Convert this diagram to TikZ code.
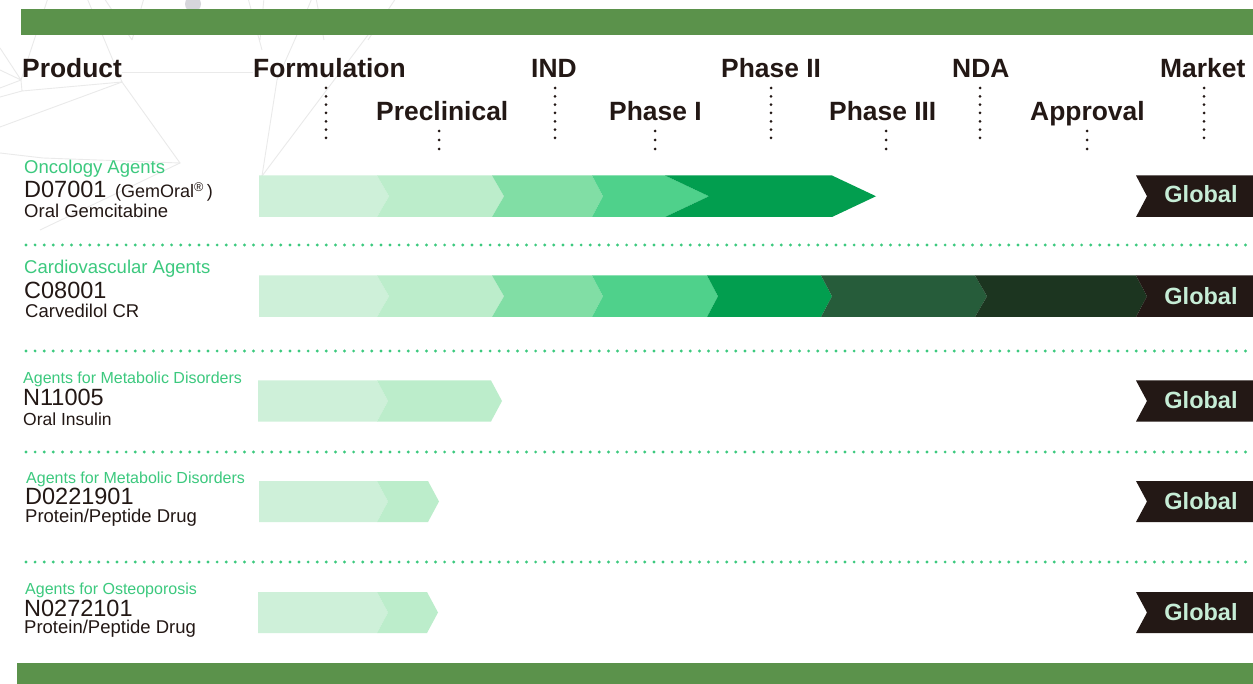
\documentclass[tikz,border=0pt]{standalone}
\usepackage{fontspec}
\setmainfont{Liberation Sans}
\usetikzlibrary{calc}
\definecolor{barGreen}{HTML}{5B924B}
\definecolor{ink}{HTML}{231815}
\definecolor{catGreen}{HTML}{3CC97E}
\definecolor{tagText}{HTML}{C6EDD6}
\definecolor{bgLine}{HTML}{EAEAEA}
\definecolor{bgDot}{HTML}{D6D6DB}
\definecolor{sA}{HTML}{CEF0D9}
\definecolor{sB}{HTML}{BCEDCB}
\definecolor{sC}{HTML}{81DEA5}
\definecolor{sD}{HTML}{4FD18B}
\definecolor{sE}{HTML}{029E4F}
\definecolor{sF}{HTML}{265C3A}
\definecolor{sG}{HTML}{1C3520}
\definecolor{tagBlack}{HTML}{231815}
\newcommand\mkseg[7]{%
  \pgfmathsetmacro\segmid{(#4+#5)/2}%
  \fill[#1] (#2,#4) -- (#3,#4) -- ({#3+#6},\segmid) -- (#3,#5) -- (#2,#5) -- ({#2+#7},\segmid) -- cycle;}
\tikzset{
  hdr/.style={font=\fontsize{26.4}{30}\selectfont\bfseries, text=ink, anchor=base west, inner sep=0pt},
  catbig/.style={font=\fontsize{18.5}{21}\selectfont, text=catGreen, anchor=base west, inner sep=0pt},
  catsmall/.style={font=\fontsize{16}{19}\selectfont, text=catGreen, anchor=base west, inner sep=0pt},
  idtext/.style={font=\fontsize{23.5}{27}\selectfont, text=ink, anchor=base west, inner sep=0pt, text depth=0pt},
  subbig/.style={font=\fontsize{18.5}{21}\selectfont, text=ink, anchor=base west, inner sep=0pt},
  subsmall/.style={font=\fontsize{18.5}{21}\selectfont, text=ink, anchor=base west, inner sep=0pt},
  tagtext/.style={font=\fontsize{23.5}{27}\selectfont\bfseries, text=tagText, anchor=base, inner sep=0pt},
  hdots/.style={draw=ink, line width=3pt, line cap=round, dash pattern=on 0pt off 8.33pt},
  rowdots/.style={draw=catGreen, line width=3.2pt, line cap=round, dash pattern=on 0pt off 9.1pt},
  bgl/.style={draw=bgLine, line width=0.9pt}
}
\begin{document}
\begin{tikzpicture}[x=1pt,y=-1pt]
\useasboundingbox (0,0) rectangle (1253,684);
\fill[white] (0,0) rectangle (1253,684);
% faint background network
\fill[bgDot] (193,4) circle (8);
\draw[bgl] (48,-2) -- (21,80) -- (22,91) -- (122,82) -- (87,-2);
\draw[bgl] (0,48) -- (21,80) (0,70) -- (21,80) (0,88) -- (21,80) (0,97) -- (22,91);
\draw[bgl] (0,127) -- (122,82) -- (180,163) -- (40,230);
\draw[bgl] (0,153) -- (43,158) -- (180,163);
\draw[bgl] (122,72) -- (253,72);
\draw[bgl] (262,176) -- (277,80) -- (296,37) -- (312,-2);
\draw[bgl] (368,35) -- (262,176);
\draw[bgl] (104,-2) -- (132,40) (144,-2) -- (132,40);
\draw[bgl] (248,-2) -- (262,50) (396,-2) -- (368,40) (264,-2) -- (260,40) (324,40) -- (316,-2);
% green bars
\fill[barGreen] (21,9) rectangle (1253,35);
\fill[barGreen] (17,663) rectangle (1253,684);
% header
\node[hdr] (product) at (22,78) {Product};
\node[hdr] (formulation) at (253,78) {Formulation};
\node[hdr] (ind) at (531,78) {IND};
\node[hdr] (phase2) at (721,78) {Phase II};
\node[hdr] (nda) at (952,78) {NDA};
\node[hdr] (market) at (1160,78) {Market};
\node[hdr] (preclinical) at (376,121) {Preclinical};
\node[hdr] (phase1) at (609,121) {Phase I};
\node[hdr] (phase3) at (829,121) {Phase III};
\node[hdr] (approval) at (1030,121) {Approval};
\coordinate (fa) at (326,88); \coordinate (fb) at (326,138.5);
\coordinate (ia) at (555,88); \coordinate (ib) at (555,138.5);
\coordinate (p2a) at (771,88); \coordinate (p2b) at (771,138.5);
\coordinate (na) at (980,88); \coordinate (nb) at (980,138.5);
\coordinate (ma) at (1204,88); \coordinate (mb) at (1204,138.5);
\coordinate (pra) at (439,131); \coordinate (prb) at (439,149.5);
\coordinate (p1a) at (655,131); \coordinate (p1b) at (655,149.5);
\coordinate (p3a) at (886,131); \coordinate (p3b) at (886,149.5);
\coordinate (apa) at (1087,131); \coordinate (apb) at (1087,149.5);
\draw[hdots] (fa) -- (fb);
\draw[hdots] (ia) -- (ib);
\draw[hdots] (p2a) -- (p2b);
\draw[hdots] (na) -- (nb);
\draw[hdots] (ma) -- (mb);
\draw[hdots, dash pattern=on 0pt off 9pt] (pra) -- (prb);
\draw[hdots, dash pattern=on 0pt off 9pt] (p1a) -- (p1b);
\draw[hdots, dash pattern=on 0pt off 9pt] (p3a) -- (p3b);
\draw[hdots, dash pattern=on 0pt off 9pt] (apa) -- (apb);
% row separators
\coordinate (s1a) at (26,245); \coordinate (s1b) at (1253,245);
\coordinate (s2a) at (26,351); \coordinate (s2b) at (1253,351);
\coordinate (s3a) at (26,452); \coordinate (s3b) at (1253,452);
\coordinate (s4a) at (26,562); \coordinate (s4b) at (1253,562);
\draw[rowdots] (s1a) -- (s1b);
\draw[rowdots] (s2a) -- (s2b);
\draw[rowdots] (s3a) -- (s3b);
\draw[rowdots] (s4a) -- (s4b);
% row 1
\mkseg{sA}{259}{377}{175.5}{217}{12}{0}
\mkseg{sB}{377}{492}{175.5}{217}{12}{12}
\mkseg{sC}{492}{592}{175.5}{217}{11}{12}
\mkseg{sD}{592}{665}{175.5}{217}{44}{11}
\mkseg{sE}{665}{832}{175.5}{217}{44}{44}
\mkseg{tagBlack}{1136}{1253}{175.5}{217}{0}{11}
% row 2
\mkseg{sA}{259}{377}{275.5}{317}{12}{0}
\mkseg{sB}{377}{492}{275.5}{317}{12}{12}
\mkseg{sC}{492}{592}{275.5}{317}{11}{12}
\mkseg{sD}{592}{707}{275.5}{317}{11}{11}
\mkseg{sE}{707}{821}{275.5}{317}{11}{11}
\mkseg{sF}{821}{975}{275.5}{317}{12}{11}
\mkseg{sG}{975}{1136}{275.5}{317}{11}{12}
\mkseg{tagBlack}{1136}{1253}{275.5}{317}{0}{11}
% row 3
\mkseg{sA}{258}{377}{380.5}{421.5}{11}{0}
\mkseg{sB}{377}{491}{380.5}{421.5}{11}{11}
\mkseg{tagBlack}{1136}{1253}{380.5}{421.5}{0}{11}
% row 4
\mkseg{sA}{259}{377}{481}{522}{11}{0}
\mkseg{sB}{377}{428}{481}{522}{11}{11}
\mkseg{tagBlack}{1136}{1253}{481}{522}{0}{11}
% row 5
\mkseg{sA}{258}{377}{592}{633}{11}{0}
\mkseg{sB}{377}{427}{592}{633}{11}{11}
\mkseg{tagBlack}{1136}{1253}{592}{633}{0}{11}
% tags
\node[tagtext] (g1) at (1201,203) {Global};
\node[tagtext] (g2) at (1201,304.5) {Global};
\node[tagtext] (g3) at (1201,409) {Global};
\node[tagtext] (g4) at (1201,509.5) {Global};
\node[tagtext] (g5) at (1201,620.5) {Global};
% left labels
\node[catbig] (cat1) at (24,173.5) {Oncology Agents};
\node[idtext] (id1) at (24,198) {D07001};
\node[font=\fontsize{18}{21}\selectfont, text=ink, anchor=base west, inner sep=0pt] (brand1) at (115,198) {(GemOral\textsuperscript{\textregistered}\,)};
\node[subbig] (sub1) at (24,218) {Oral Gemcitabine};
\node[catbig] (cat2) at (24,274) {Cardiovascular Agents};
\node[idtext] (id2) at (24,298.5) {C08001};
\node[subbig] (sub2) at (25,318) {Carvedilol CR};
\node[catsmall] (cat3) at (23,384) {Agents for Metabolic Disorders};
\node[idtext] (id3) at (23,406) {N11005};
\node[subsmall, font=\fontsize{17.5}{20}\selectfont] (sub3) at (23,425) {Oral Insulin};
\node[catsmall] (cat4) at (26,483.5) {Agents for Metabolic Disorders};
\node[idtext] (id4) at (25,504.5) {D0221901};
\node[subsmall] (sub4) at (25,522.5) {Protein/Peptide Drug};
\node[catsmall] (cat5) at (25,594) {Agents for Osteoporosis};
\node[idtext] (id5) at (24,616) {N0272101};
\node[subsmall] (sub5) at (24,633.5) {Protein/Peptide Drug};
\end{tikzpicture}
\end{document}
